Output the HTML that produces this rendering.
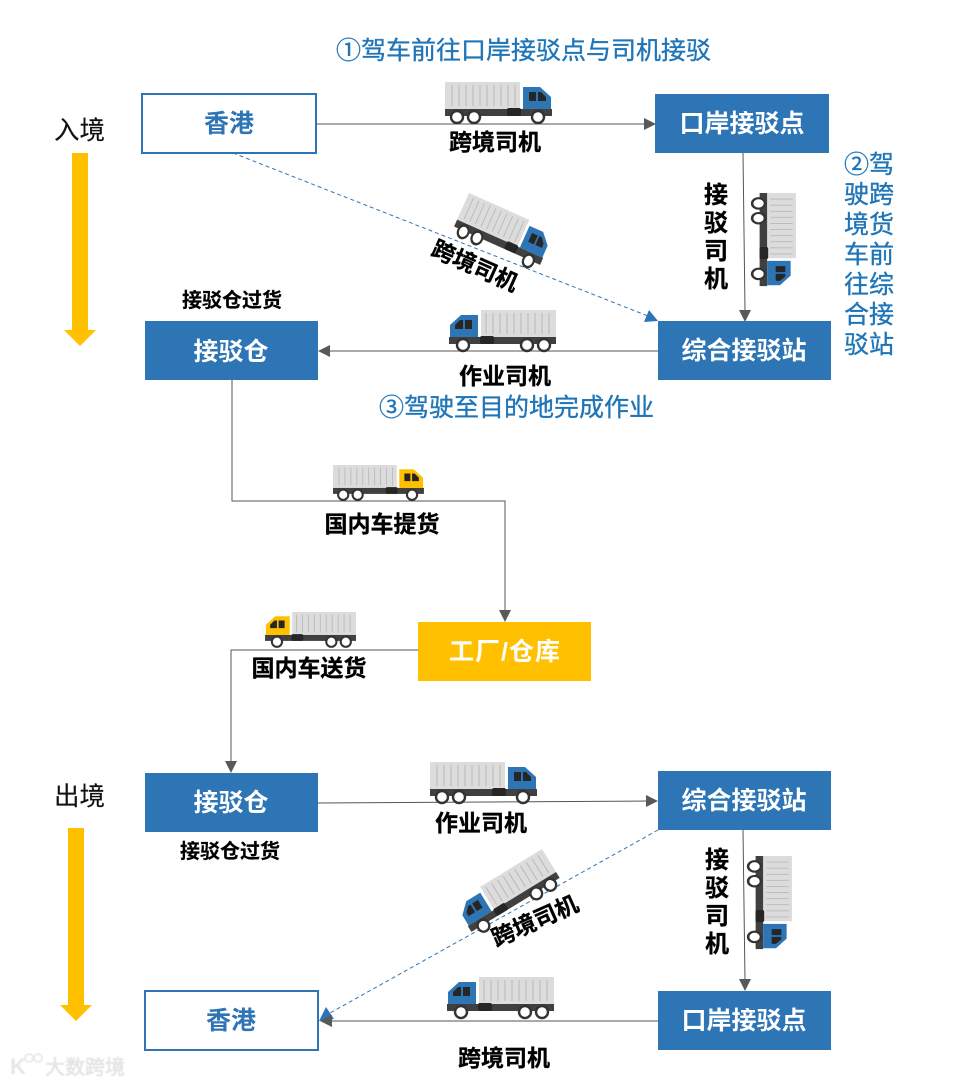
<!DOCTYPE html>
<html><head><meta charset="utf-8">
<style>
html,body{margin:0;padding:0;background:#fff;width:956px;height:1084px;overflow:hidden}
svg{display:block}
text{font-family:"Liberation Sans","Noto Sans CJK SC",sans-serif}
.n{font-size:25px;font-weight:700;fill:#fff;text-anchor:middle}
.b{font-size:23px;font-weight:700;fill:#000;text-anchor:middle;stroke:#000;stroke-width:.3}
.s{font-size:20px;font-weight:700;fill:#000;text-anchor:middle;stroke:#000;stroke-width:.2}
.v{font-size:24px;font-weight:700;fill:#000;text-anchor:middle;stroke:#000;stroke-width:.3}
.c{font-size:25px;fill:#1f75b8;stroke:#1f75b8;stroke-width:.35}
.k{font-size:25.5px;fill:#111;stroke:#111;stroke-width:.15}
.l{stroke:#555;stroke-width:1;fill:none}
.d{stroke:#2e75b6;stroke-width:1;stroke-dasharray:4 3;fill:none}
.m{fill:#595959}
</style></head><body>
<svg width="956" height="1084" viewBox="0 0 956 1084" xmlns="http://www.w3.org/2000/svg">
<defs>
<filter id="bl"><feGaussianBlur stdDeviation=".6"/></filter>
<g id="tr">
<rect x="0" y="0" width="75" height="27" fill="#dcdcdc"/>
<g stroke="#b8b8b8" stroke-width="1"><path d="M7 3V24M14 3V24M21 3V24M28 3V24M35 3V24M42 3V24M49 3V24M56 3V24M63 3V24M70 3V24"/></g>
<rect x="0" y="27" width="107" height="7" fill="#404040"/>
<rect x="62" y="26" width="14" height="8" rx="2" fill="#262626"/>
<circle cx="12" cy="35" r="6" fill="#fff" stroke="#333" stroke-width="2.4"/>
<circle cx="29" cy="35" r="6" fill="#fff" stroke="#333" stroke-width="2.4"/>
<circle cx="93" cy="35" r="6" fill="#fff" stroke="#333" stroke-width="2.4"/>
</g>
<g id="cb"><path d="M78 5H95L106 15V27H78Z" fill="#2e75b6"/><path d="M84 10H91V19H84ZM93 10H96L101 15V19H93Z" fill="#262626"/></g>
<g id="cy"><path d="M78 5H95L106 15V27H78Z" fill="#ffc000"/><path d="M84 10H91V19H84ZM93 10H96L101 15V19H93Z" fill="#262626"/></g>
<g id="tb"><use href="#tr"/><use href="#cb"/></g>
<g id="ty"><use href="#tr"/><use href="#cy"/></g>
</defs>

<!-- lines -->
<path class="l" d="M317 124H645"/><path class="m" d="M656 124L644 118V130Z"/>
<path class="d" d="M233 153L648 316"/><path d="M658 321L644 322L649 310Z" fill="#2e75b6"/>
<path class="l" d="M743 153L745 311"/><path class="m" d="M745 322L739 310H751Z"/>
<path class="l" d="M658 351H328"/><path class="m" d="M318 351L330 345V357Z"/>
<path class="l" d="M232 380V501H505V612"/><path class="m" d="M505 622L499 610H511Z"/>
<path class="l" d="M418 650H231V763"/><path class="m" d="M231 773L225 761H237Z"/>
<path class="l" d="M318 803L648 801"/><path class="m" d="M658 801L646 795V807Z"/>
<path class="d" d="M658 830L330 1013"/><path d="M319 1021L326 1007L334 1019Z" fill="#2e75b6"/>
<path class="l" d="M743 830L745 981"/><path class="m" d="M745 991L739 979H751Z"/>
<path class="l" d="M658 1021H330"/><path class="m" d="M320 1021L332 1015V1027Z"/>

<!-- yellow arrows -->
<path d="M72 153H88V330H96L80 346L64 330H72Z" fill="#ffc000"/>
<path d="M68 828H84V1005H92L76 1021L60 1005H68Z" fill="#ffc000"/>

<!-- boxes -->
<rect x="142" y="94" width="174" height="59" fill="#fff" stroke="#2e75b6" stroke-width="2"/>
<rect x="655" y="94" width="174" height="59" fill="#2e75b6"/>
<rect x="658" y="321" width="173" height="59" fill="#2e75b6"/>
<rect x="145" y="321" width="173" height="59" fill="#2e75b6"/>
<rect x="418" y="622" width="173" height="59" fill="#ffc000"/>
<rect x="145" y="773" width="173" height="59" fill="#2e75b6"/>
<rect x="658" y="771" width="173" height="59" fill="#2e75b6"/>
<rect x="145" y="991" width="173" height="59" fill="#fff" stroke="#2e75b6" stroke-width="2"/>
<rect x="658" y="991" width="173" height="59" fill="#2e75b6"/>

<text class="n" x="229" y="132" style="fill:#2e75b6">香港</text>
<text class="n" x="742" y="132">口岸接驳点</text>
<text class="n" x="744" y="359">综合接驳站</text>
<text class="n" x="231" y="360">接驳仓</text>
<text class="n" x="505" y="660" letter-spacing="1">工厂/仓库</text>
<text class="n" x="231" y="811">接驳仓</text>
<text class="n" x="744" y="809">综合接驳站</text>
<text class="n" x="231" y="1029" style="fill:#2e75b6">香港</text>
<text class="n" x="744" y="1029">口岸接驳点</text>

<!-- trucks -->
<use href="#tb" transform="translate(445 82)"/>
<use href="#tb" transform="translate(469 193) rotate(24) scale(.88 1.08)"/>
<use href="#tb" transform="translate(796 193) rotate(90) scale(.87 1.07)"/>
<use href="#tb" transform="translate(556 310) scale(-1 1)"/>
<use href="#ty" transform="translate(333 465) scale(.85)"/>
<use href="#ty" transform="translate(356 612) scale(-.85 .85)"/>
<use href="#tb" transform="translate(430 762)"/>
<use href="#tb" transform="translate(792 856) rotate(90) scale(.87 1.07)"/>
<use href="#tb" transform="matrix(-.825 .505 .52 .85 542 849)"/>
<use href="#tb" transform="translate(554 977) scale(-1 1)"/>

<!-- black labels -->
<text class="b" x="495" y="150">跨境司机</text>
<text class="b" x="475" y="274" transform="rotate(24 475 266)">跨境司机</text>
<text class="b" x="505" y="384">作业司机</text>
<text class="b" x="382" y="532">国内车提货</text>
<text class="b" x="309" y="676">国内车送货</text>
<text class="b" x="481" y="831">作业司机</text>
<text class="b" x="535" y="929" transform="rotate(-24 535 921)">跨境司机</text>
<text class="b" x="504" y="1066">跨境司机</text>
<text class="s" x="232" y="307">接驳仓过货</text>
<text class="s" x="230" y="858">接驳仓过货</text>
<text class="v" x="716" y="203">接</text>
<text class="v" x="716" y="231">驳</text>
<text class="v" x="716" y="259">司</text>
<text class="v" x="716" y="287">机</text>
<text class="v" x="717" y="868">接</text>
<text class="v" x="717" y="896">驳</text>
<text class="v" x="717" y="924">司</text>
<text class="v" x="717" y="952">机</text>

<!-- blue captions -->
<text class="c" x="336" y="59">①驾车前往口岸接驳点与司机接驳</text>
<text class="c" x="379" y="416">③驾驶至目的地完成作业</text>
<text class="c" x="844" y="173">②驾</text>
<text class="c" x="844" y="203">驶跨</text>
<text class="c" x="844" y="233">境货</text>
<text class="c" x="844" y="263">车前</text>
<text class="c" x="844" y="293">往综</text>
<text class="c" x="844" y="323">合接</text>
<text class="c" x="844" y="353">驳站</text>

<text class="k" x="54" y="139">入境</text>
<text class="k" x="54" y="805">出境</text>

<!-- watermark -->
<g opacity=".8" filter="url(#bl)">
<text x="45" y="1074" font-size="20" fill="#e0e0e0" stroke="#d8d8d8" stroke-width=".5">大数跨境</text>
<text x="10" y="1074" font-size="22" font-weight="700" fill="#e0e0e0">K</text>
<circle cx="29" cy="1058" r="4" fill="none" stroke="#e0e0e0" stroke-width="1.5"/>
<circle cx="38" cy="1058" r="4" fill="none" stroke="#e0e0e0" stroke-width="1.5"/>
</g>
</svg>
</body></html>
